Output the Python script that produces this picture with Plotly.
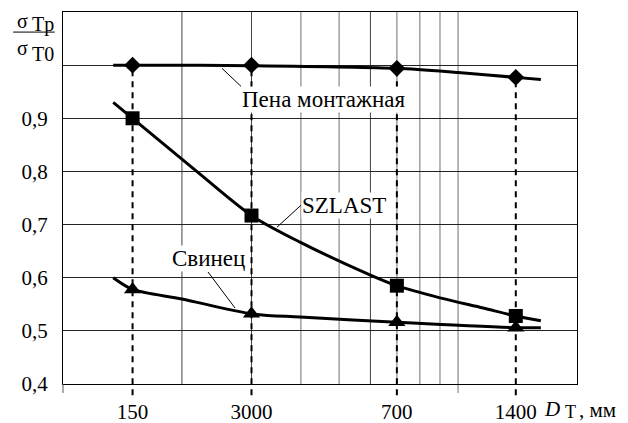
import plotly.graph_objects as go
import math

FONT = "'Liberation Serif', 'Times New Roman', 'DejaVu Serif', serif"

# ---- data ----
x_points = [150, 300, 700, 1400]
x_tick_text = ["150", "3000", "700", "1400"]

foam_pts = [1.0, 1.0, 0.994, 0.977]
szlast_pts = [0.90, 0.717, 0.585, 0.528]
lead_pts = [0.578, 0.532, 0.516, 0.506]

foam_curve_x = [134, 150, 300, 700, 1000, 1400, 1620]
foam_curve_y = [1.0, 1.0, 0.999, 0.994, 0.986, 0.977, 0.973]

szlast_curve_x = [134, 150, 218, 300, 398, 600, 700, 900, 1157, 1400, 1620]
szlast_curve_y = [0.93, 0.90, 0.80, 0.717, 0.667, 0.605, 0.585, 0.562, 0.543, 0.528, 0.519]

lead_curve_x = [134, 150, 200, 300, 398, 700, 1400, 1620]
lead_curve_y = [0.60, 0.578, 0.56, 0.532, 0.526, 0.516, 0.506, 0.506]

y_tick_vals = [0.4, 0.5, 0.6, 0.7, 0.8, 0.9, 1.0]
y_tick_text = ["0,4", "0,5", "0,6", "0,7", "0,8", "0,9", ""]

grid_dark = [200, 300, 600]
grid_light = [400, 500, 700, 800, 900, 1000]

X_RANGE = [100, 2000]
Y_RANGE = [0.4, 1.1]

def ypaper(v):
    return (v - Y_RANGE[0]) / (Y_RANGE[1] - Y_RANGE[0])

fig = go.Figure()

line_style = dict(color="black", width=3, shape="spline", smoothing=0.8)
fig.add_trace(go.Scatter(x=foam_curve_x, y=foam_curve_y, mode="lines", line=line_style, hoverinfo="skip"))
fig.add_trace(go.Scatter(x=szlast_curve_x, y=szlast_curve_y, mode="lines", line=line_style, hoverinfo="skip"))
fig.add_trace(go.Scatter(x=lead_curve_x, y=lead_curve_y, mode="lines", line=line_style, hoverinfo="skip"))

fig.add_trace(go.Scatter(x=x_points, y=foam_pts, mode="markers",
                         marker=dict(symbol="diamond", size=13, color="black"), cliponaxis=False))
fig.add_trace(go.Scatter(x=x_points, y=szlast_pts, mode="markers",
                         marker=dict(symbol="square", size=14, color="black"), cliponaxis=False))
fig.add_trace(go.Scatter(x=x_points, y=lead_pts, mode="markers",
                         marker=dict(symbol="triangle-up", size=15, color="black"), cliponaxis=False))

shapes = []
for gx in grid_dark:
    shapes.append(dict(type="line", xref="x", yref="paper", x0=gx, x1=gx, y0=0, y1=1,
                       line=dict(color="#444444", width=1), layer="below"))
for gx in grid_light:
    y0 = -0.024 if gx == 1000 else 0
    shapes.append(dict(type="line", xref="x", yref="paper", x0=gx, x1=gx, y0=y0, y1=1,
                       line=dict(color="#a0a0a0", width=1.5), layer="below"))
# dashed drop lines
for xv, yv in zip(x_points, foam_pts):
    shapes.append(dict(type="line", xref="x", yref="paper", x0=xv, x1=xv, y0=-0.03, y1=ypaper(yv),
                       line=dict(color="black", width=2, dash="6px,5px"), layer="above"))
# left axis small extension
shapes.append(dict(type="line", xref="paper", yref="paper", x0=0, x1=0, y0=-0.024, y1=0,
                   line=dict(color="#555555", width=1)))
# fraction bar
shapes.append(dict(type="line", xref="paper", yref="paper", x0=-0.097, x1=-0.016, y0=0.946, y1=0.946,
                   line=dict(color="black", width=1)))

ann = []
def txt(text, x, y, size=20, xanchor="left"):
    ann.append(dict(text=text, x=x, y=y, xref="paper", yref="paper", showarrow=False,
                    xanchor=xanchor, yanchor="middle", font=dict(family=FONT, size=size, color="black")))

# y-axis fraction label
txt("σ", -0.093, 0.975, 20)
txt("Tp", -0.065, 0.966, 20)
txt("σ", -0.093, 0.903, 20)
txt("T0", -0.065, 0.886, 20)
# x-axis title
txt("<i>D</i>", 0.932, -0.067, 21)
txt("T", 0.973, -0.074, 18)
txt(", мм", 1.0, -0.069, 21)

label_font = dict(family=FONT, size=23, color="black")
ann.append(dict(text="Пена монтажная", x=math.log10(252.6), y=0.994, xref="x", yref="y",
                showarrow=True, arrowhead=0, arrowwidth=1, arrowcolor="black",
                ax=19, ay=18, xanchor="left", yanchor="top", bgcolor="white", borderpad=0,
                font=label_font))
ann.append(dict(text="SZLAST", x=math.log10(348), y=0.695, xref="x", yref="y",
                showarrow=True, arrowhead=0, arrowwidth=1, arrowcolor="black",
                ax=24, ay=-22, xanchor="left", yanchor="middle", bgcolor="white", borderpad=0,
                font=label_font))
ann.append(dict(text="Свинец", x=math.log10(272.5), y=0.543, xref="x", yref="y",
                showarrow=True, arrowhead=0, arrowwidth=1, arrowcolor="black",
                ax=-27, ay=-36, xanchor="center", yanchor="bottom", bgcolor="white", borderpad=0,
                font=label_font))

# the page body adds an 8px offset; size the figure to fit the window
fig.update_layout(
    width=620, height=415,
    margin=dict(l=55, r=51, t=4, b=39, autoexpand=False),
    paper_bgcolor="white", plot_bgcolor="white",
    showlegend=False,
    shapes=shapes, annotations=ann,
    font=dict(family=FONT, size=21, color="black"),
)
fig.update_xaxes(type="log", range=[math.log10(X_RANGE[0]), math.log10(X_RANGE[1])],
                 tickmode="array", tickvals=x_points, ticktext=x_tick_text,
                 showgrid=False, zeroline=False, showline=True, mirror=True,
                 linecolor="black", linewidth=1, ticks="", ticklabelstandoff=9,
                 tickfont=dict(family=FONT, size=21, color="black"))
fig.update_yaxes(range=Y_RANGE, tickmode="array", tickvals=y_tick_vals, ticktext=y_tick_text,
                 showgrid=True, gridcolor="#222222", gridwidth=1, zeroline=False,
                 showline=True, mirror=True, linecolor="black", linewidth=1, ticks="",
                 ticklabelstandoff=10,
                 tickfont=dict(family=FONT, size=21, color="black"))

fig.write_html("out.html")
